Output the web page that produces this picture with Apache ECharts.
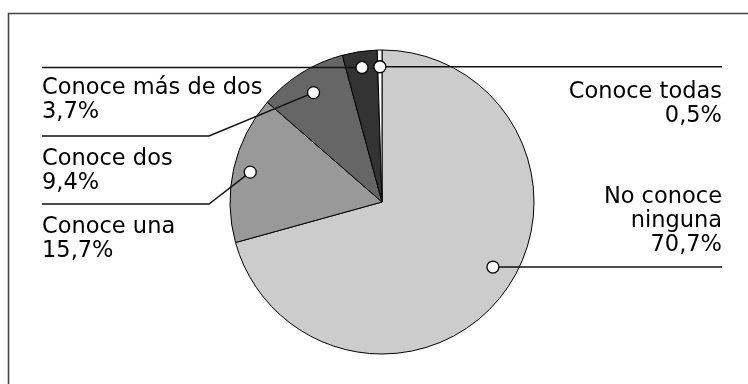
<!DOCTYPE html>
<html><head><meta charset="utf-8">
<script src="https://cdn.jsdelivr.net/npm/echarts@6/dist/echarts.min.js"></script>
<style>html,body{margin:0;padding:0;background:#fff}#c{width:748px;height:384px}</style>
</head><body><div id="c"></div>
<script>
// ---- data ----
const categories = ['No conoce ninguna', 'Conoce una', 'Conoce dos', 'Conoce más de dos', 'Conoce todas'];
const labelNames = ['No conoce\nninguna', 'Conoce una', 'Conoce dos', 'Conoce más de dos', 'Conoce todas'];
const values = [70.7, 15.7, 9.4, 3.7, 0.5];
const colors = ['#cccccc', '#999999', '#666666', '#333333', '#ffffff'];

// ---- anchor (small circle) placement inside each slice: fraction along slice angle, fraction of radius ----
const anchorAlong = [0.473, 0.5, 0.5, 0.5, 0.5];
const anchorRadius = [0.846, 0.889, 0.849, 0.895, 0.89];

const CX = 382, CY = 202, R = 152;
const FONT = 'DejaVu Sans';
const total = values.reduce((a, b) => a + b, 0);
let cum = 0;
const anchors = values.map((v, i) => { const a = cum + v * anchorAlong[i]; cum += v; return [anchorRadius[i], a]; });

const fmt = v => v.toFixed(1).replace('.', ',') + '%';

// label layout (positions of text blocks and leader-line bends)
const layoutSpec = [
  { align: 'right', x: 722, y: 185, line: p => [p, [600, p[1]], [722, p[1]]] },
  { align: 'left', x: 42, y: 215, line: p => [p, [209, 204], [42, 204]] },
  { align: 'left', x: 42, y: 147, line: p => [p, [209, 136], [42, 136]] },
  { align: 'left', x: 42, y: 76, line: p => [p, [200, p[1]], [42, p[1]]] },
  { align: 'right', x: 722, y: 80, line: p => [p, [600, p[1]], [722, p[1]]] }
];

const chart = echarts.init(document.getElementById('c'), null, { renderer: 'canvas' });

const pieData = (withColor) => categories.map((c, i) => ({
  name: c, value: values[i],
  itemStyle: withColor ? { color: colors[i] } : { color: 'rgba(0,0,0,0)', borderWidth: 0 }
}));

function baseOption(anchorPx) {
  return {
    animation: false,
    backgroundColor: '#ffffff',
    graphic: [{
      type: 'rect', silent: true, z: 0,
      shape: { x: 8.5, y: 13.5, width: 800, height: 420 },
      style: { fill: 'none', stroke: '#444444', lineWidth: 1.6 }
    }],
    polar: { center: [CX, CY], radius: R },
    angleAxis: { type: 'value', min: 0, max: total, startAngle: 90, clockwise: true, show: false },
    radiusAxis: { type: 'value', min: 0, max: 1, show: false },
    series: [{
      type: 'pie',
      center: [CX, CY],
      radius: [0, R],
      startAngle: 90,
      clockwise: true,
      z: 2,
      data: pieData(true),
      itemStyle: { borderColor: '#000000', borderWidth: 1 },
      emphasis: { disabled: true },
      label: { show: false },
      labelLine: { show: false }
    }, {
      type: 'scatter',
      coordinateSystem: 'polar',
      z: 10,
      symbol: 'circle',
      symbolSize: 12,
      itemStyle: { color: '#ffffff', borderColor: '#000000', borderWidth: 1.3, opacity: 1 },
      emphasis: { disabled: true },
      data: anchors
    }, {
      type: 'pie',
      center: [CX, CY],
      radius: [0, R],
      startAngle: 90,
      clockwise: true,
      avoidLabelOverlap: false,
      silent: true,
      z: 5,
      data: pieData(false),
      emphasis: { disabled: true },
      label: {
        show: !!anchorPx,
        position: 'outside',
        formatter: p => labelNames[p.dataIndex] + '\n' + fmt(p.value),
        fontFamily: FONT, fontSize: 22.5, lineHeight: 24, color: '#000000'
      },
      labelLine: { show: !!anchorPx, lineStyle: { color: '#111111', width: 1.4 } },
      labelLayout: anchorPx ? function (params) {
        const i = params.dataIndex;
        const s = layoutSpec[i];
        return {
          x: s.x, y: s.y, align: s.align, verticalAlign: 'top',
          labelLinePoints: s.line(anchorPx[i])
        };
      } : undefined
    }]
  };
}

chart.setOption(baseOption(null));
const anchorPx = anchors.map(a => chart.convertToPixel({ seriesIndex: 1 }, a));
chart.setOption(baseOption(anchorPx), true);
</script>
</body></html>
